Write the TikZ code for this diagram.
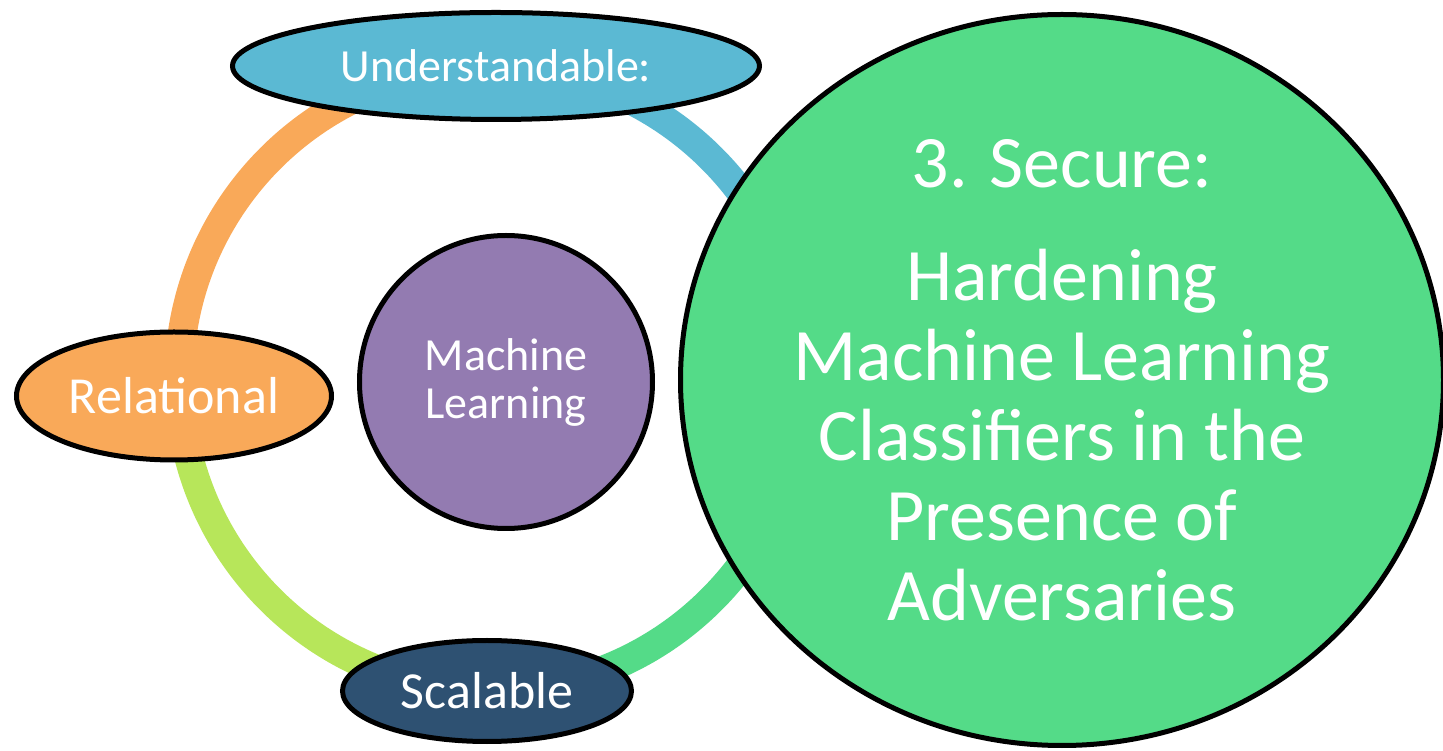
\documentclass[tikz,border=0pt]{standalone}
\usepackage{fontspec}
\setmainfont{Carlito}
\usetikzlibrary{shapes.geometric}
\definecolor{undblue}{HTML}{5BB9D3}
\definecolor{relorange}{HTML}{F9A959}
\definecolor{ringlime}{HTML}{B7E65A}
\definecolor{secgreen}{HTML}{54DB88}
\definecolor{scalnavy}{HTML}{2E5172}
\definecolor{mlpurple}{HTML}{937BB1}
\begin{document}
\begin{tikzpicture}[x=1pt, y=1pt,
    blob/.style={ellipse, draw=black, line width=5pt, text=white, inner sep=0pt, align=center},
    ring/.style={line width=29pt}
]
\useasboundingbox (-491,-372) rectangle (952,379);
\def\r{312}
\coordinate (n) at (90:\r);
\coordinate (w) at (180:\r);
\coordinate (s) at (270:\r);
\coordinate (e) at (0:\r);

\draw[ring, undblue] (e) arc[start angle=0, end angle=90, radius=\r];
\draw[ring, relorange] (n) arc[start angle=90, end angle=180, radius=\r];
\draw[ring, ringlime] (w) arc[start angle=180, end angle=270, radius=\r];
\draw[ring, secgreen] (s) arc[start angle=270, end angle=360, radius=\r];

\node[blob, fill=undblue, minimum width=527pt, minimum height=107pt, font=\fontsize{46}{54}\selectfont] (und) at (5,313) {Understandable:};
\node[blob, fill=relorange, minimum width=315pt, minimum height=128pt, font=\fontsize{52}{60}\selectfont] (rel) at (-317,-17) {Relational};
\node[blob, fill=scalnavy, minimum width=289pt, minimum height=101pt, font=\fontsize{52}{60}\selectfont] (scal) at (-4,-312) {Scalable};
\node[blob, circle, fill=mlpurple, minimum size=293pt, font=\fontsize{46}{48}\selectfont] (ml) at (15,-3) {Machine\\Learning};
\node[blob, fill=secgreen, minimum width=763pt, minimum height=731pt, font=\fontsize{74}{80}\selectfont] (sec) at (571,-1)
    {3. Secure:\\[33pt]Hardening\\Machine Learning\\Classifiers in the\\Presence of\\Adversaries};
\end{tikzpicture}
\end{document}
